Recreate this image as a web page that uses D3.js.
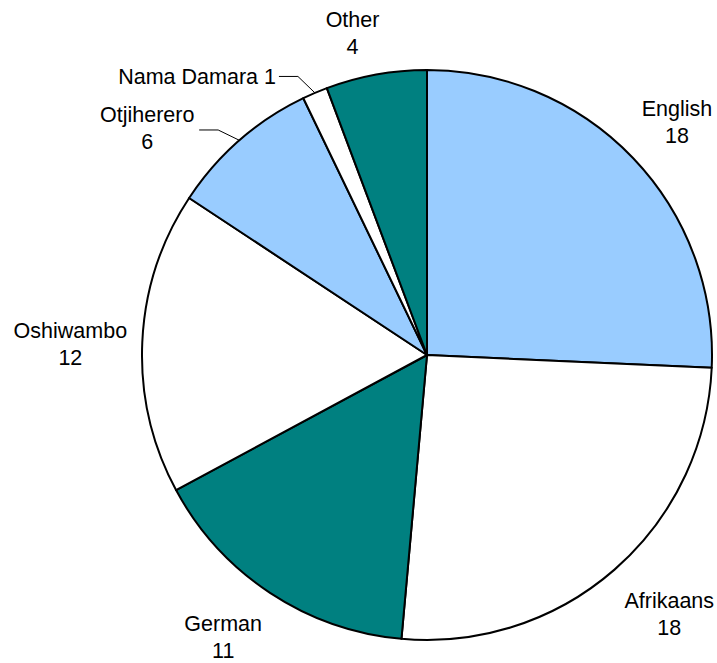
<!DOCTYPE html>
<html>
<head>
<meta charset="utf-8">
<script src="https://cdn.jsdelivr.net/npm/d3@7/dist/d3.min.js"></script>
<style>
  body { margin: 0; background: #fff; }
  text { font-family: "Liberation Sans", Arial, sans-serif; font-size: 21.5px; fill: #000; }
</style>
</head>
<body>
<svg id="chart" width="717" height="663"></svg>
<script>

// Data

var languages = ["English", "Afrikaans", "German", "Oshiwambo", "Otjiherero", "Nama Damara", "Other"],
    counts    = [18, 18, 11, 12, 6, 1, 4],
    fills     = ["#99ccff", "#ffffff", "#008080", "#ffffff", "#99ccff", "#ffffff", "#008080"];

// Layout

var cx = 427, cy = 355, r = 285,
    labelR = 350,
    lineH = 27;

// slices that get a leader line instead of a plain label
var leader = { "Otjiherero": "two", "Nama Damara": "one" };

// small nudges so the labels sit like the original
var nudge = {
  "English": [-3, 9],
  "Afrikaans": [12, -5],
  "German": [-11, -10],
  "Oshiwambo": [-7, 5],
  "Other": [-12, 22]
};

var svg = d3.select("#chart");
var g = svg.append("g").attr("transform", "translate(" + cx + "," + cy + ")");

var pie = d3.pie().sort(null).value(function(d) { return d.v; });
var arc = d3.arc().innerRadius(0).outerRadius(r);

var rows = languages.map(function(l, i) { return { name: l, v: counts[i], fill: fills[i] }; });
var arcs = pie(rows);

g.selectAll("path.slice")
  .data(arcs)
  .enter()
  .append("path")
  .attr("class", "slice")
  .attr("d", arc)
  .style("fill", function(d) { return d.data.fill; })
  .style("stroke", "#000")
  .style("stroke-width", 2)
  .style("stroke-linejoin", "round");

function polar(a, rad) { return [rad * Math.sin(a), -rad * Math.cos(a)]; }

arcs.forEach(function(d) {
  var mid = (d.startAngle + d.endAngle) / 2,
      name = d.data.name;

  if (leader[name]) {
    var p0 = polar(mid, r),
        p1 = polar(mid - 0.03, r + 22),
        p2 = [p1[0] - 19, p1[1]];
    g.append("polyline")
      .attr("points", [p0, p1, p2].map(function(p) { return p.join(","); }).join(" "))
      .style("fill", "none")
      .style("stroke", "#000")
      .style("stroke-width", 1);

    if (leader[name] == "one") {
      g.append("text")
        .attr("x", p2[0] - 3)
        .attr("y", p2[1] + 8)
        .style("text-anchor", "end")
        .text(name + " " + d.data.v);
    } else {
      var tx = p2[0] - 52;
      var t = g.append("text")
        .attr("x", tx)
        .attr("y", p2[1] - 8)
        .style("text-anchor", "middle");
      t.append("tspan").attr("x", tx).text(name);
      t.append("tspan").attr("x", tx).attr("dy", lineH).text(d.data.v);
    }
    return;
  }

  var c = polar(mid, labelR),
      n = nudge[name] || [0, 0],
      x = c[0] + n[0],
      y = c[1] + n[1];

  var txt = g.append("text")
    .attr("x", x)
    .attr("y", y - 6)
    .style("text-anchor", "middle");
  txt.append("tspan").attr("x", x).text(name);
  txt.append("tspan").attr("x", x).attr("dy", lineH).text(d.data.v);
});

</script>
</body>
</html>
